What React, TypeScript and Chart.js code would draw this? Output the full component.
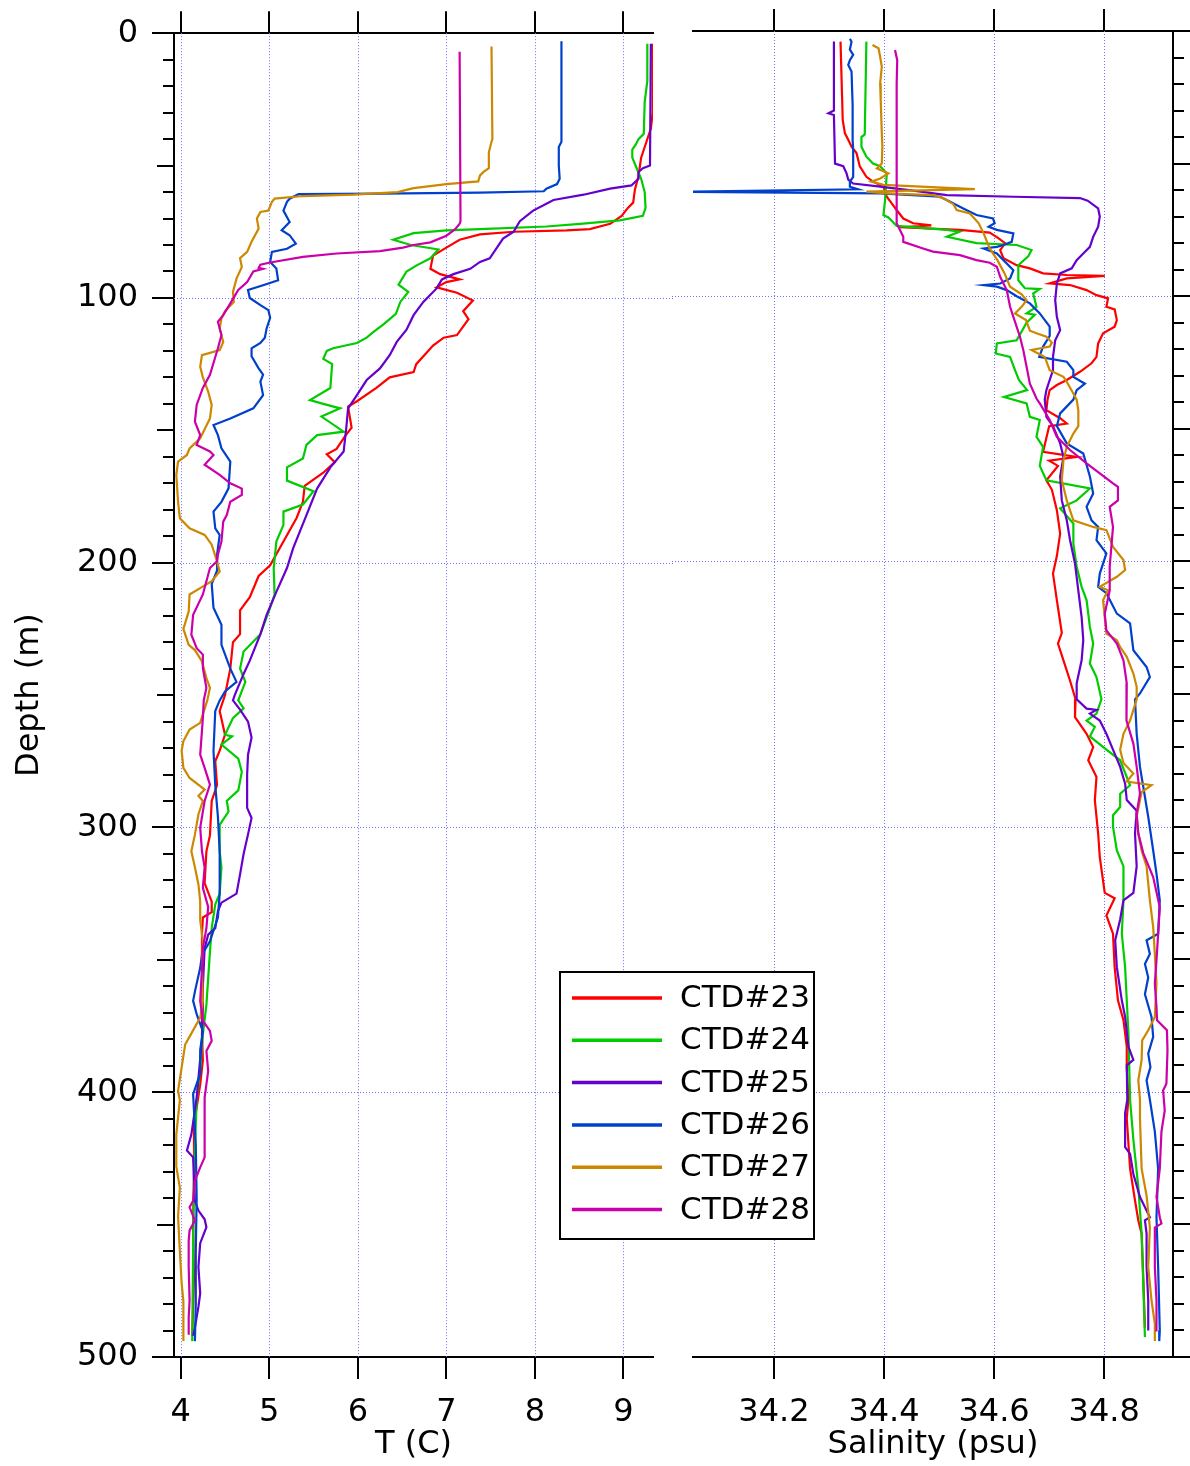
import React, { useEffect, useRef } from "react";
import { Chart, registerables } from "chart.js";

Chart.register(...registerables);

type P = [number, number]; // [depth (m), value]

const stations = ["CTD#23", "CTD#24", "CTD#25", "CTD#26", "CTD#27", "CTD#28"];
const stationColors = ["#ff0000", "#00cc00", "#6600cc", "#0040cc", "#cc8800", "#cc00aa"];

const depthTicks = [0, 100, 200, 300, 400, 500];
const tempTicks = [4, 5, 6, 7, 8, 9];
const salTicks = [34.2, 34.4, 34.6, 34.8];

const T_MIN = 3.924;
const T_MAX = 9.334;
const S_MIN = 34.053;
const S_MAX = 34.925;

// ---------- Temperature profiles [depth, T] ----------
const temp23: P[] = [[4,9.33],[30,9.33],[36,9.31],[41,9.26],[47,9.2],[54,9.17],[59,9.13],[64,9.11],[66,9.05],[69,8.98],[72,8.85],[74,8.62],[74.5,8.36],[75,7.76],[76,7.38],[78,7.15],[81,7.0],[84,6.85],[89,6.82],[91,6.93],[93,7.15],[94,7.0],[96,6.89],[98,7.12],[101,7.3],[105,7.19],[108,7.25],[114,7.12],[115,6.97],[118,6.85],[125,6.66],[128,6.63],[130,6.36],[134,6.21],[139,5.99],[141,5.89],[145,5.91],[149,5.93],[152,5.86],[157,5.76],[159,5.65],[162,5.74],[166,5.61],[171,5.4],[177,5.38],[183,5.31],[192,5.16],[201,5.01],[205,4.88],[213,4.78],[218,4.67],[227,4.67],[230,4.59],[240,4.56],[250,4.5],[256,4.44],[265,4.5],[271,4.44],[275,4.39],[284,4.41],[290,4.35],[303,4.33],[309,4.29],[321,4.27],[328,4.35],[332,4.35],[334,4.25],[340,4.24],[353,4.24],[366,4.25],[378,4.24],[388,4.25],[397,4.22],[410,4.16],[430,4.15],[450,4.14],[470,4.15],[492,4.13]];
const temp24: P[] = [[4,9.27],[18,9.27],[26,9.24],[38,9.23],[40,9.17],[42,9.14],[44,9.1],[47,9.1],[51,9.15],[55,9.2],[60,9.24],[66,9.25],[69,9.22],[70.7,8.96],[72,8.51],[73,8.13],[74,7.38],[74.5,7.0],[75.5,6.63],[78,6.4],[80,6.6],[81.7,6.91],[85,6.82],[87.6,6.67],[90,6.55],[95,6.46],[97.7,6.57],[101.5,6.48],[106,6.43],[110,6.29],[113,6.17],[115,6.1],[117,5.99],[119,5.72],[120,5.65],[123,5.61],[125,5.71],[134,5.69],[138.6,5.46],[140,5.61],[141.7,5.8],[144.8,5.59],[150.5,5.84],[151.8,5.54],[155.5,5.42],[160.6,5.38],[164,5.2],[169,5.2],[173,5.5],[178,5.38],[180.7,5.16],[185.7,5.16],[192,5.08],[202,5.05],[212,5.06],[217,5.01],[227,4.9],[233.5,4.71],[240,4.67],[245,4.73],[252,4.65],[255,4.71],[258.7,4.59],[265,4.5],[265.6,4.58],[268.7,4.46],[274,4.65],[279,4.69],[286,4.65],[290,4.52],[294,4.54],[299,4.44],[309,4.44],[315,4.46],[325,4.44],[329,4.39],[338,4.35],[347,4.33],[357,4.31],[367,4.29],[378,4.25],[391,4.22],[403,4.18],[430,4.15],[460,4.14],[494,4.13]];
const temp25: P[] = [[4,9.31],[50,9.3],[51,9.22],[52.4,9.17],[55,9.17],[57.5,9.09],[58.7,8.85],[61,8.55],[63,8.21],[64.4,8.13],[67,7.98],[71,7.83],[75,7.76],[77.6,7.64],[85,7.49],[86.4,7.38],[89,7.27],[91,7.08],[93,6.95],[96.4,6.89],[101.5,6.74],[106.5,6.63],[112,6.55],[116.6,6.44],[121.6,6.36],[126.6,6.25],[131,6.1],[136.7,5.99],[141.7,5.89],[149,5.87],[158,5.84],[164,5.69],[172,5.54],[182,5.42],[194.5,5.27],[202,5.2],[211,5.08],[219.7,4.97],[227,4.9],[237,4.78],[242,4.71],[250,4.61],[252,4.59],[255.5,4.67],[260,4.76],[266,4.8],[272.5,4.76],[280,4.75],[292.6,4.75],[296.4,4.8],[302.6,4.76],[310,4.71],[317.7,4.67],[325,4.63],[328.4,4.46],[331.6,4.42],[338,4.39],[340.5,4.31],[345.6,4.27],[360,4.25],[380,4.24],[402,4.18],[416,4.12],[422,4.07],[424.6,4.14],[441,4.16],[444.7,4.2],[448,4.27],[451,4.29],[457,4.22],[466,4.2],[476,4.22],[481,4.2],[489,4.16],[492,4.14]];
const temp26: P[] = [[3,8.3],[41,8.3],[43,8.27],[50,8.27],[55,8.28],[57,8.25],[58.7,8.13],[59.7,8.1],[60.2,7.38],[60.6,6.25],[60.8,5.33],[62.5,5.23],[63.7,5.2],[67,5.16],[71.3,5.23],[74.4,5.14],[76.3,5.23],[79.5,5.3],[81.4,5.2],[82.6,5.03],[86.4,5.01],[88.9,5.08],[93.3,5.1],[95.2,4.93],[97,4.76],[100,4.78],[102.7,4.9],[104.6,4.99],[107.5,5.01],[111.5,4.97],[115,4.95],[117,4.9],[119,4.8],[122,4.8],[126.6,4.88],[129,4.93],[131.6,4.9],[136.7,4.93],[141.7,4.82],[145.5,4.56],[148,4.37],[151.8,4.42],[156.8,4.46],[161.8,4.56],[171.9,4.54],[177,4.46],[180.7,4.37],[187,4.39],[189.5,4.44],[197,4.41],[203,4.41],[208,4.35],[217,4.37],[223.4,4.46],[231,4.46],[240,4.56],[245,4.63],[248.6,4.5],[252,4.44],[256,4.39],[271,4.37],[284,4.39],[296,4.42],[309,4.44],[325,4.44],[334,4.42],[339,4.37],[343,4.33],[348,4.24],[353,4.22],[362,4.16],[365.5,4.14],[370.5,4.18],[377,4.25],[384,4.22],[393,4.22],[400.7,4.14],[420,4.17],[440,4.18],[460,4.17],[480,4.17],[494,4.16]];
const temp27: P[] = [[5,7.51],[40,7.52],[41,7.51],[45,7.48],[51,7.48],[52.4,7.42],[53.7,7.38],[56,7.36],[57,7.0],[58.5,6.63],[60,6.45],[61,5.95],[61.5,5.38],[62.5,5.06],[63.7,5.03],[67,4.99],[67.5,4.9],[70,4.86],[73.8,4.88],[78.8,4.8],[82.6,4.75],[85,4.67],[88.3,4.69],[92.7,4.63],[97.7,4.59],[101.5,4.6],[105,4.5],[107.8,4.46],[111.5,4.44],[116.6,4.48],[119.7,4.44],[121.6,4.24],[126,4.22],[130,4.25],[135.4,4.31],[140.4,4.35],[145.5,4.33],[153,4.22],[156.8,4.1],[159.3,4.07],[161.8,3.97],[166.8,3.95],[177,3.97],[183.2,3.99],[187,4.1],[189.5,4.27],[193.2,4.35],[199.5,4.41],[203.3,4.44],[207,4.35],[209.6,4.22],[212,4.1],[218.4,4.09],[225,4.03],[231,4.09],[233,4.16],[237.3,4.24],[243.6,4.29],[247.3,4.33],[252,4.3],[260.5,4.22],[263,4.1],[267.4,4.03],[271,4.01],[277.5,4.03],[281.3,4.1],[284.4,4.22],[285.7,4.27],[288,4.2],[290,4.25],[295,4.2],[302.7,4.16],[309,4.12],[315,4.16],[321.5,4.2],[328,4.22],[335,4.22],[343,4.25],[353,4.24],[365.5,4.25],[371.8,4.22],[379,4.1],[382,4.05],[390.7,4.01],[399.5,3.97],[403,3.99],[416,3.95],[428,3.95],[436,3.99],[447,3.97],[460,3.99],[472,4.01],[479,4.03],[494,4.03]];
const temp28: P[] = [[7,7.15],[71,7.16],[72,7.15],[74,7.1],[76.5,7.0],[79,6.82],[80,6.63],[81,6.51],[82.3,6.25],[83.2,5.76],[84.5,5.38],[86.6,5.01],[87.4,4.9],[88.6,4.88],[89,4.93],[90,4.82],[94,4.75],[97,4.65],[101.5,4.57],[106.5,4.48],[109,4.42],[114,4.46],[119,4.42],[129,4.33],[134,4.25],[140.4,4.18],[146.7,4.16],[151.8,4.22],[155.5,4.18],[158,4.33],[159.3,4.37],[163,4.27],[166.8,4.44],[170,4.56],[172,4.69],[174.4,4.69],[177,4.56],[182,4.52],[184.5,4.48],[192,4.46],[197,4.42],[199.5,4.41],[202,4.33],[207,4.29],[212,4.25],[219.7,4.14],[227.2,4.12],[232.3,4.18],[234.7,4.25],[239.8,4.25],[247.3,4.29],[252,4.26],[258.7,4.25],[272.5,4.22],[277.5,4.27],[283.8,4.33],[290,4.27],[300,4.22],[309,4.24],[315,4.27],[322.8,4.25],[330,4.31],[338,4.29],[345.6,4.25],[353,4.24],[365.5,4.22],[373,4.25],[376.8,4.33],[380.6,4.35],[384.4,4.29],[392,4.31],[402,4.27],[407,4.27],[424.6,4.27],[428.4,4.22],[433.4,4.16],[441,4.14],[443.4,4.1],[448.5,4.16],[452.2,4.1],[456,4.09],[466,4.09],[478.7,4.1],[485,4.09],[491.6,4.09]];

// ---------- Salinity profiles [depth, S] ----------
const sal23: P[] = [[4,34.321],[33.6,34.325],[38.6,34.329],[41,34.335],[43.6,34.341],[46,34.35],[51,34.356],[55,34.368],[56.8,34.38],[58.7,34.399],[62.5,34.405],[65,34.414],[67.5,34.423],[70.7,34.435],[72.5,34.453],[73.3,34.486],[74,34.429],[75,34.538],[76,34.592],[78,34.607],[80,34.62],[82.6,34.611],[85.7,34.617],[88.3,34.641],[89.5,34.665],[91.4,34.689],[92,34.732],[92.3,34.801],[93.3,34.732],[95.2,34.701],[95.8,34.738],[97.7,34.768],[99.6,34.786],[100.8,34.807],[104,34.804],[105,34.819],[109,34.823],[111.5,34.819],[114,34.798],[117.8,34.789],[122.9,34.786],[125.3,34.777],[128.5,34.756],[131.6,34.732],[133.5,34.714],[135.4,34.701],[139,34.697],[143,34.695],[146,34.72],[148,34.732],[149,34.7],[158.7,34.689],[160.6,34.75],[162,34.7],[164,34.716],[169.4,34.695],[173,34.705],[180.7,34.714],[189.5,34.72],[198,34.714],[204.6,34.707],[214.6,34.714],[227,34.723],[231,34.716],[237.3,34.726],[245,34.738],[252,34.748],[258.7,34.747],[265,34.768],[270,34.78],[275,34.771],[281.3,34.786],[290,34.783],[302.6,34.789],[311.5,34.792],[325,34.801],[327,34.819],[333.5,34.804],[340.4,34.816],[353,34.819],[365.5,34.825],[373,34.835],[383,34.841],[390.7,34.841],[403,34.844],[410,34.841],[429,34.847],[441,34.856],[448.5,34.862],[453.5,34.868],[470,34.871],[489,34.874]];
const sal24: P[] = [[4,34.368],[39,34.365],[40,34.359],[43.6,34.359],[47.4,34.368],[50,34.38],[51,34.393],[53.7,34.405],[63.7,34.402],[69.4,34.399],[70.3,34.408],[73.5,34.423],[75,34.514],[75.7,34.537],[77.6,34.514],[80,34.568],[80.7,34.641],[82.6,34.668],[85,34.662],[88.3,34.644],[94,34.644],[97,34.656],[97.3,34.683],[99,34.671],[104,34.677],[106.5,34.659],[107,34.674],[110,34.659],[116.6,34.641],[117.8,34.605],[121.6,34.603],[122.9,34.629],[127.9,34.638],[131.6,34.645],[135.4,34.66],[138,34.618],[140.4,34.659],[145.5,34.665],[146.7,34.683],[153,34.677],[156.8,34.689],[164,34.683],[169.4,34.695],[172.5,34.774],[177,34.75],[180,34.72],[185.7,34.744],[193.3,34.744],[202,34.75],[209.6,34.759],[214.6,34.768],[224.7,34.774],[231,34.78],[238.5,34.774],[243.6,34.786],[252,34.795],[257.4,34.786],[260,34.768],[262.4,34.783],[266,34.774],[271,34.804],[275,34.829],[281.3,34.841],[284.4,34.847],[287.6,34.829],[292.6,34.829],[295.7,34.816],[300,34.816],[309,34.823],[315,34.835],[327.8,34.835],[340.4,34.832],[353,34.838],[365.5,34.841],[378,34.844],[403,34.847],[418,34.853],[436,34.862],[453.5,34.868],[472.5,34.871],[492.5,34.874]];
const sal25: P[] = [[4,34.309],[30,34.309],[31,34.299],[31.7,34.309],[50,34.311],[51,34.326],[53.7,34.332],[56,34.335],[57.5,34.344],[58.7,34.393],[60.2,34.453],[61.9,34.514],[62.5,34.635],[63,34.756],[64,34.77],[66.9,34.789],[70,34.792],[73.8,34.789],[77.6,34.78],[81.4,34.774],[83.9,34.762],[86.4,34.75],[89.5,34.741],[91.4,34.72],[95.2,34.714],[101.5,34.711],[107.8,34.714],[112.8,34.72],[116.6,34.711],[122.9,34.707],[127.9,34.707],[131.6,34.701],[135.4,34.695],[139,34.692],[145.5,34.695],[149,34.707],[155.5,34.72],[160.6,34.726],[168,34.72],[177,34.723],[184.5,34.732],[192,34.738],[200.8,34.747],[211,34.753],[221,34.759],[229.7,34.762],[237.3,34.759],[246,34.75],[252,34.75],[255.5,34.768],[256,34.786],[257.4,34.774],[260,34.792],[265,34.804],[271,34.816],[277.5,34.829],[283.8,34.838],[290,34.841],[294,34.859],[302.6,34.856],[315,34.859],[325,34.853],[327.8,34.835],[335,34.829],[342.9,34.82],[353,34.823],[365.5,34.832],[371.8,34.838],[383,34.844],[388,34.853],[390,34.841],[403,34.842],[408,34.838],[420.9,34.838],[423.4,34.847],[431,34.853],[439.7,34.865],[447.3,34.883],[448.5,34.874],[453.5,34.877],[466,34.877],[478.7,34.88],[490,34.88]];
const sal26: P[] = [[3,34.338],[4,34.341],[7,34.338],[9,34.344],[11,34.338],[12.8,34.335],[15.3,34.341],[28,34.343],[41,34.343],[45,34.344],[55,34.344],[56.8,34.338],[58.7,34.338],[59.7,34.353],[60.6,34.03],[61.2,34.393],[62.5,34.502],[64.4,34.52],[66.9,34.544],[69.4,34.568],[70.7,34.598],[72.5,34.601],[73.8,34.59],[75,34.605],[76.3,34.635],[79.5,34.632],[80.7,34.617],[81.4,34.605],[82,34.581],[83.9,34.605],[86.4,34.617],[90.2,34.635],[93.3,34.629],[95.2,34.611],[95.8,34.581],[96.4,34.605],[97.7,34.623],[100,34.641],[102.7,34.665],[106.5,34.683],[111.5,34.701],[115,34.701],[119,34.689],[122.9,34.682],[124.7,34.732],[127.9,34.744],[130.4,34.744],[133,34.765],[135.4,34.75],[139,34.744],[144.2,34.72],[149,34.714],[155.5,34.732],[159.3,34.762],[168,34.774],[174.4,34.78],[179.4,34.768],[184.5,34.777],[187,34.789],[192,34.786],[197,34.804],[204.6,34.792],[209.6,34.789],[212,34.804],[219.7,34.823],[223.4,34.847],[233.5,34.853],[239.8,34.877],[243.6,34.883],[249.8,34.865],[252,34.856],[265,34.859],[277.5,34.865],[296.3,34.88],[309,34.889],[317.7,34.895],[327.8,34.901],[340.4,34.898],[342.9,34.877],[348,34.883],[351.8,34.874],[356.9,34.88],[363.2,34.874],[371.8,34.886],[379.3,34.889],[385.6,34.88],[390.7,34.884],[395.7,34.877],[403,34.883],[415,34.892],[429,34.898],[447.3,34.895],[466,34.898],[490,34.901],[494,34.9]];
const sal27: P[] = [[5.3,34.379],[6.5,34.39],[9.7,34.393],[13.5,34.396],[19.7,34.393],[26,34.394],[38.6,34.396],[43.6,34.397],[50,34.396],[51.8,34.387],[53.7,34.408],[55.6,34.393],[56.8,34.377],[58,34.399],[59.6,34.565],[60.6,34.368],[61.2,34.405],[61.9,34.49],[63.1,34.508],[65.3,34.526],[67.5,34.532],[68.8,34.556],[72.5,34.572],[76.3,34.581],[82,34.592],[86.4,34.606],[91.4,34.619],[96.4,34.629],[99.3,34.65],[101.5,34.659],[104,34.65],[106.5,34.638],[109,34.658],[113,34.665],[114,34.677],[115.3,34.695],[117.5,34.705],[119,34.701],[120.3,34.668],[122.9,34.692],[127.9,34.701],[130.4,34.726],[133,34.734],[136.7,34.744],[139,34.75],[143,34.753],[149,34.753],[151.8,34.744],[156.8,34.732],[161.8,34.726],[169.4,34.723],[177,34.732],[184.5,34.744],[187,34.78],[188.2,34.804],[194.5,34.816],[199.5,34.835],[203.3,34.838],[205.8,34.823],[209.6,34.792],[210.9,34.807],[214.6,34.798],[227.2,34.804],[229.7,34.823],[232.3,34.829],[236,34.841],[242.3,34.853],[247.3,34.859],[252,34.859],[260,34.847],[265,34.835],[271,34.829],[276,34.835],[280,34.853],[283,34.841],[284.4,34.886],[287,34.868],[290,34.865],[296.3,34.859],[302.6,34.862],[309,34.868],[315,34.877],[327.8,34.883],[337.9,34.889],[348,34.892],[359.2,34.895],[371.8,34.892],[376.8,34.88],[380.6,34.869],[388,34.868],[395.7,34.862],[403,34.865],[410,34.865],[429,34.868],[439.2,34.877],[451.2,34.883],[466,34.88],[478.7,34.886],[487.4,34.892],[494,34.892]];
const sal28: P[] = [[7.2,34.42],[11,34.424],[20,34.423],[72.5,34.423],[75,34.429],[77.6,34.435],[79.5,34.435],[82,34.471],[83.2,34.489],[84.5,34.538],[86.4,34.568],[87.4,34.592],[88.9,34.605],[92.7,34.611],[95.2,34.617],[97.7,34.623],[104,34.629],[107.8,34.635],[115.3,34.647],[120.3,34.653],[126.6,34.659],[133,34.665],[138.6,34.677],[140.4,34.683],[146.7,34.701],[153,34.714],[158,34.738],[163,34.768],[166.8,34.792],[170.6,34.816],[171.9,34.825],[177,34.825],[179.4,34.81],[187,34.816],[194.5,34.813],[202,34.81],[211,34.81],[219.7,34.801],[226,34.804],[231,34.823],[237.3,34.835],[246,34.841],[252,34.84],[260,34.841],[268.7,34.853],[277.5,34.859],[287.6,34.865],[295,34.859],[302.6,34.862],[310,34.871],[319,34.889],[330.4,34.901],[340.4,34.898],[350.4,34.895],[359.2,34.892],[368,34.895],[373,34.896],[376.8,34.914],[384.4,34.915],[397,34.913],[399.5,34.907],[407,34.91],[415,34.904],[429,34.901],[439.7,34.895],[447.3,34.901],[449.7,34.904],[451.2,34.892],[466,34.892],[478.7,34.895],[490.4,34.895]];

const tempProfiles = [temp23, temp24, temp25, temp26, temp27, temp28];
const salProfiles = [sal23, sal24, sal25, sal26, sal27, sal28];

const FONT = "'DejaVu Sans', 'Lucida Grande', sans-serif";
const GRID_COLOR = "rgb(110,110,255)";

const framePlugin = {
  id: "profileFrame",
  beforeDatasetsDraw(chart: any, _args: any, opts: any) {
    const { ctx, chartArea: a, scales } = chart;
    ctx.save();
    ctx.strokeStyle = GRID_COLOR;
    ctx.lineWidth = 1;
    ctx.setLineDash([1, 2]);
    for (const v of opts.xTicks as number[]) {
      const px = Math.round(scales.x.getPixelForValue(v)) + 0.5;
      ctx.beginPath();
      ctx.moveTo(px, a.top);
      ctx.lineTo(px, a.bottom);
      ctx.stroke();
    }
    for (const d of depthTicks) {
      if (d === depthTicks[0] || d === depthTicks[depthTicks.length - 1]) continue;
      const py = Math.round(scales.y.getPixelForValue(d)) + 0.5;
      ctx.beginPath();
      ctx.moveTo(opts.hFrom ?? a.left, py);
      ctx.lineTo(opts.hTo ?? a.right, py);
      ctx.stroke();
    }
    ctx.restore();
  },
  afterDraw(chart: any, _args: any, opts: any) {
    const { ctx, chartArea: a, scales } = chart;
    ctx.save();
    ctx.strokeStyle = "#000";
    ctx.lineWidth = 2;
    for (let d = 10; d < 500; d += 10) {
      if (d % 100 === 0) continue;
      const len = d % 50 === 0 ? 17 : 11;
      const py = Math.round(scales.y.getPixelForValue(d));
      const x0 = opts.side === "left" ? a.left : a.right;
      const x1 = opts.side === "left" ? a.left - len : a.right + len;
      ctx.beginPath();
      ctx.moveTo(x0, py);
      ctx.lineTo(x1, py);
      ctx.stroke();
    }
    ctx.restore();
  },
};

const boxLegendPlugin = {
  id: "boxLegend",
  afterDraw(chart: any, _args: any, opts: any) {
    if (!opts || !opts.show) return;
    const { ctx } = chart;
    ctx.save();
    ctx.fillStyle = "#fff";
    ctx.fillRect(opts.x, opts.y, opts.w, opts.h);
    ctx.strokeStyle = "#000";
    ctx.lineWidth = 2;
    ctx.strokeRect(opts.x, opts.y, opts.w, opts.h);
    ctx.font = `31px ${FONT}`;
    ctx.textBaseline = "middle";
    ctx.textAlign = "left";
    chart.data.datasets.forEach((ds: any, i: number) => {
      const cy = opts.firstRowY + i * opts.rowH;
      ctx.strokeStyle = ds.borderColor;
      ctx.lineWidth = 3.5;
      ctx.beginPath();
      ctx.moveTo(opts.lineX0, cy);
      ctx.lineTo(opts.lineX1, cy);
      ctx.stroke();
      ctx.fillStyle = "#000";
      ctx.fillText(ds.label, opts.textX, cy + 1);
    });
    ctx.restore();
  },
};

function makeDatasets(profiles: P[][]) {
  return profiles.map((pts, i) => ({
    label: stations[i],
    data: pts.map(([d, v]) => ({ x: v, y: d })),
    borderColor: stationColors[i],
    backgroundColor: stationColors[i],
    borderWidth: 2.2,
    pointRadius: 0,
    pointHoverRadius: 0,
    showLine: true,
    fill: false,
    tension: 0,
    order: profiles.length - 1 - i,
  }));
}

const tickFont = { family: FONT, size: 32 };
const titleFont = { family: FONT, size: 32, lineHeight: 1.2 };

function xAxis(min: number, max: number, ticks: number[], fmt: (v: number) => string, title: string) {
  return {
    type: "linear",
    position: "bottom",
    min,
    max,
    afterBuildTicks: (s: any) => {
      s.ticks = ticks.map((v) => ({ value: v }));
    },
    afterFit: (s: any) => {
      s.height = 109;
    },
    ticks: {
      callback: (v: any) => fmt(Number(v)),
      font: tickFont,
      color: "#000",
      padding: 14,
      maxRotation: 0,
      autoSkip: false,
    },
    grid: { drawOnChartArea: false, drawTicks: true, tickLength: 22, color: "#000", lineWidth: 2 },
    border: { display: true, color: "#000", width: 2 },
    title: { display: true, text: title, font: titleFont, color: "#000", padding: { top: 0, bottom: 2 } },
  };
}

function xTopAxis(min: number, max: number, ticks: number[]) {
  return {
    type: "linear",
    position: "top",
    min,
    max,
    afterBuildTicks: (s: any) => {
      s.ticks = ticks.map((v) => ({ value: v }));
    },
    afterFit: (s: any) => {
      s.height = 31;
    },
    ticks: { display: false },
    grid: { drawOnChartArea: false, drawTicks: true, tickLength: 22, color: "#000", lineWidth: 2 },
    border: { display: true, color: "#000", width: 2 },
  };
}

function yAxis(side: "left" | "right") {
  return {
    type: "linear",
    position: side,
    reverse: true,
    min: 0,
    max: 500,
    afterBuildTicks: (s: any) => {
      s.ticks = depthTicks.map((v) => ({ value: v }));
    },
    afterFit: (s: any) => {
      s.width = side === "left" ? 174 : 17;
    },
    ticks: {
      display: side === "left",
      callback: (v: any) => String(v),
      font: tickFont,
      color: "#000",
      padding: 14,
    },
    grid: { drawOnChartArea: false, drawTicks: true, tickLength: 22, color: "#000", lineWidth: 2 },
    border: { display: true, color: "#000", width: 2 },
    title: {
      display: side === "left",
      text: "Depth (m)",
      font: titleFont,
      color: "#000",
      padding: { top: 10, bottom: 0 },
    },
  };
}

export default function App() {
  const tRef = useRef<HTMLCanvasElement | null>(null);
  const sRef = useRef<HTMLCanvasElement | null>(null);

  useEffect(() => {
    if (!tRef.current || !sRef.current) return;
    const tChart = new Chart(tRef.current, {
      type: "scatter",
      data: { datasets: makeDatasets(tempProfiles) as any },
      options: {
        responsive: false,
        animation: false,
        devicePixelRatio: 1,
        layout: { padding: { left: 0, top: 0, right: 537, bottom: 0 } },
        events: [],
        plugins: {
          legend: { display: false },
          tooltip: { enabled: false },
          profileFrame: { side: "left", xTicks: tempTicks, hTo: 673 },
        } as any,
        scales: {
          x: xAxis(T_MIN, T_MAX, tempTicks, (v) => v.toFixed(0), "T (C)"),
          xTop: xTopAxis(T_MIN, T_MAX, tempTicks),
          y: yAxis("left"),
        } as any,
      },
      plugins: [framePlugin],
    });
    const sChart = new Chart(sRef.current, {
      type: "scatter",
      data: { datasets: makeDatasets(salProfiles) as any },
      options: {
        responsive: false,
        animation: false,
        devicePixelRatio: 1,
        layout: { padding: { left: 693, top: 0, right: 0, bottom: 0 } },
        events: [],
        plugins: {
          legend: { display: false },
          tooltip: { enabled: false },
          profileFrame: { side: "right", xTicks: salTicks, hFrom: 672 },
          boxLegend: {
            show: true,
            x: 560,
            y: 972,
            w: 254,
            h: 267,
            firstRowY: 998,
            rowH: 42.3,
            lineX0: 572,
            lineX1: 662,
            textX: 680,
          },
        } as any,
        scales: {
          x: xAxis(S_MIN, S_MAX, salTicks, (v) => v.toFixed(1), "Salinity (psu)"),
          xTop: xTopAxis(S_MIN, S_MAX, salTicks),
          y: yAxis("right"),
        } as any,
      },
      plugins: [framePlugin, boxLegendPlugin],
    });
    return () => {
      tChart.destroy();
      sChart.destroy();
    };
  }, []);

  return (
    <div style={{ position: "absolute", left: 0, top: 0, width: 1190, height: 1466, background: "#fff" }}>
      <canvas ref={tRef} width={1190} height={1466} style={{ position: "absolute", left: 0, top: 0 }} />
      <canvas ref={sRef} width={1190} height={1466} style={{ position: "absolute", left: 0, top: 0 }} />
    </div>
  );
}
